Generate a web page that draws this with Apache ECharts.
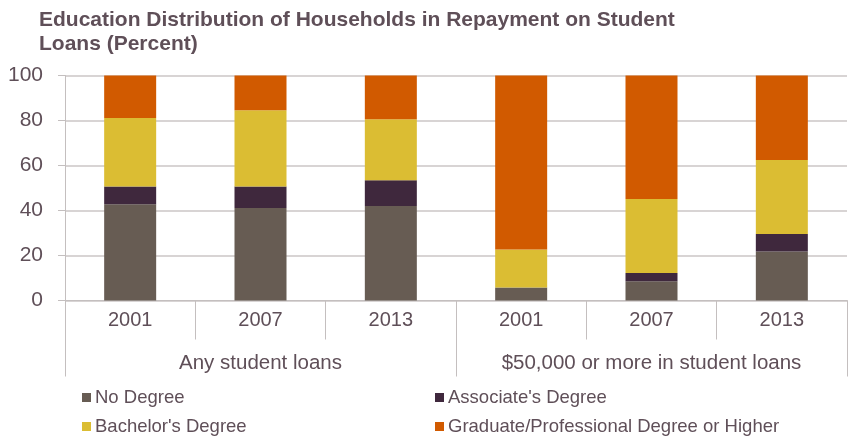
<!DOCTYPE html>
<html><head><meta charset="utf-8">
<script src="https://cdn.jsdelivr.net/npm/echarts@6/dist/echarts.min.js"></script>
<style>html,body{margin:0;padding:0;background:#fff}#c{width:854px;height:438px}</style>
</head><body><div id="c"></div>
<script>
const years = ['2001','2007','2013','2001','2007','2013'];
const groups = ['Any student loans','$50,000 or more in student loans'];
const noDegree = [42.8, 41.1, 42.0, 5.8, 8.6, 21.8];
const associate = [7.9, 9.6, 11.5, 0, 3.6, 7.8];
const bachelor = [30.4, 33.9, 27.1, 16.9, 32.9, 32.9];
const graduate = [18.9, 15.4, 19.4, 77.3, 54.9, 37.5];
const seriesNames = ['No Degree', "Associate's Degree", "Bachelor's Degree", 'Graduate/Professional Degree or Higher'];
const colors = ['#675c53', '#3f283d', '#dbbd33', '#d15a00'];
const yTicks = [0, 20, 40, 60, 80, 100];

const txt = '#5f4f58';
const font = 'Liberation Sans, Arial, sans-serif';
const chart = echarts.init(document.getElementById('c'));
const values = [noDegree, associate, bachelor, graduate];
const legendPos = [[82, 388], [435, 388], [82, 417], [435, 417]];
chart.setOption({
  animation: false,
  textStyle: {fontFamily: font},
  title: {
    text: 'Education Distribution of Households in Repayment on Student\nLoans (Percent)',
    left: 34, top: 3,
    textStyle: {fontSize: 21, fontWeight: 'bold', color: txt, lineHeight: 24, fontFamily: font}
  },
  legend: seriesNames.map((n, i) => ({
    data: [n], left: legendPos[i][0], top: legendPos[i][1], padding: 0,
    itemWidth: 9, itemHeight: 9, icon: 'rect', itemGap: 0,
    textStyle: {fontSize: 18.5, color: txt, fontFamily: font, padding: [0, 0, 0, -1]}
  })),
  grid: {left: 65, right: 7, top: 75.5, bottom: 137.5, containLabel: false},
  xAxis: [
    {type: 'category', data: years, position: 'bottom',
     axisLine: {lineStyle: {color: '#c4bfbf', width: 1}},
     axisTick: {show: true, length: 39, interval: 0, lineStyle: {color: '#c4bfbf'}},
     axisLabel: {fontSize: 20, color: txt, margin: 10, fontFamily: font}},
    {type: 'category', data: groups, position: 'bottom',
     axisLine: {show: false},
     axisTick: {show: true, length: 76, interval: 0, lineStyle: {color: '#c4bfbf'}},
     axisLabel: {fontSize: 20.5, color: txt, margin: 52, fontFamily: font}}
  ],
  yAxis: {
    type: 'value', min: yTicks[0], max: yTicks[yTicks.length-1], interval: 20,
    axisLine: {show: true, lineStyle: {color: '#c4bfbf'}},
    axisTick: {show: true, length: 7, lineStyle: {color: '#c4bfbf'}},
    splitLine: {lineStyle: {color: '#cbc6c6', width: 1.5}},
    axisLabel: {fontSize: 21, color: txt, margin: 22, fontFamily: font}
  },
  series: seriesNames.map((n, i) => ({
    name: n, type: 'bar', stack: 'a', xAxisIndex: 0, barWidth: 52,
    data: values[i], itemStyle: {color: colors[i]}
  }))
});
</script></body></html>
